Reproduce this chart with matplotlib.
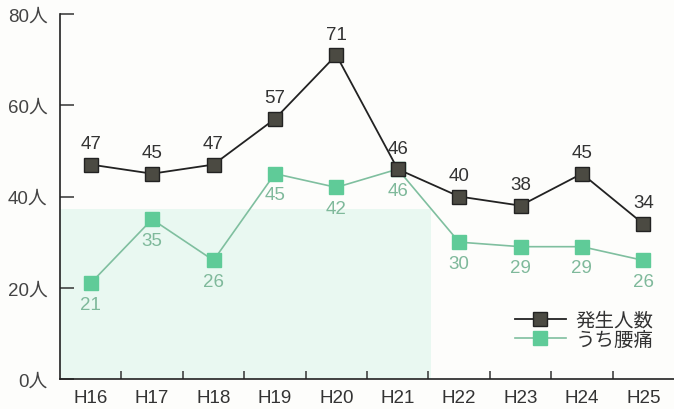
import matplotlib
matplotlib.use("Agg")
import matplotlib.pyplot as plt
from matplotlib.patches import Rectangle

plt.rcParams['font.family'] = ['Liberation Sans', 'Noto Sans CJK JP', 'DejaVu Sans']

categories = ["H16", "H17", "H18", "H19", "H20", "H21", "H22", "H23", "H24", "H25"]
total = [47, 45, 47, 57, 71, 46, 40, 38, 45, 34]
backpain = [21, 35, 26, 45, 42, 46, 30, 29, 29, 26]
yticks = [0, 20, 40, 60, 80]
ytick_labels = ["0人", "20人", "40人", "60人", "80人"]
series_names = ["発生人数", "うち腰痛"]

fig = plt.figure(figsize=(6.74, 4.10), dpi=100)
fig.patch.set_facecolor("#fdfdfb")
ax = fig.add_axes([60/674, 30/410, 614/674, 365/410])
ax.set_facecolor("#fdfdfb")

x = list(range(len(categories)))
ax.add_patch(Rectangle((-0.5, 0), 6.05, 37.3, facecolor="#e9f8f1", edgecolor="none", zorder=0))

dark_c = "#4b4a42"
green_c = "#5fcb98"
ax.plot(x, total, color="#222222", lw=1.3, marker="s", markersize=10,
        markerfacecolor=dark_c, markeredgecolor="#222222", markeredgewidth=1.0,
        label=series_names[0], zorder=4)
ax.plot(x, backpain, color="#7fbf9f", lw=1.2, marker="s", markersize=10,
        markerfacecolor=green_c, markeredgecolor=green_c,
        label=series_names[1], zorder=3)

for xi, v in zip(x, total):
    ax.annotate(str(v), (xi, v), xytext=(0, 9), textcoords="offset points",
                ha="center", va="bottom", fontsize=13.5, color="#333333", zorder=5)
for xi, v in zip(x, backpain):
    ax.annotate(str(v), (xi, v), xytext=(0, -9), textcoords="offset points",
                ha="center", va="top", fontsize=13.5, color="#7fb99b", zorder=5)

ax.set_xlim(-0.5, 9.5)
ax.set_ylim(0, 80)
for s in ["top", "right"]:
    ax.spines[s].set_visible(False)
for s in ["left", "bottom"]:
    ax.spines[s].set_color("#222222")
    ax.spines[s].set_linewidth(1.2)

ax.set_yticks(yticks)
ax.set_yticklabels(ytick_labels, fontsize=13.5, color="#444444")
ax.tick_params(axis="y", direction="in", length=10, width=1.1, color="#333333", pad=9)

ax.set_xticks([i + 0.5 for i in range(len(categories) - 1)])
ax.set_xticklabels([])
ax.set_xticks(x, minor=True)
ax.set_xticklabels(categories, minor=True, fontsize=13.5, color="#333333")
ax.tick_params(axis="x", which="major", direction="in", length=6, width=1.1, color="#333333")
ax.tick_params(axis="x", which="minor", length=0, pad=7)

leg = ax.legend(loc="lower right", bbox_to_anchor=(0.995, 0.035), frameon=False,
                fontsize=14, handlelength=2.6, handletextpad=0.5, labelspacing=0.05,
                markerscale=1.0)
for t in leg.get_texts():
    t.set_color("#333333")

fig.savefig("out.png", dpi=100, facecolor=fig.get_facecolor())
